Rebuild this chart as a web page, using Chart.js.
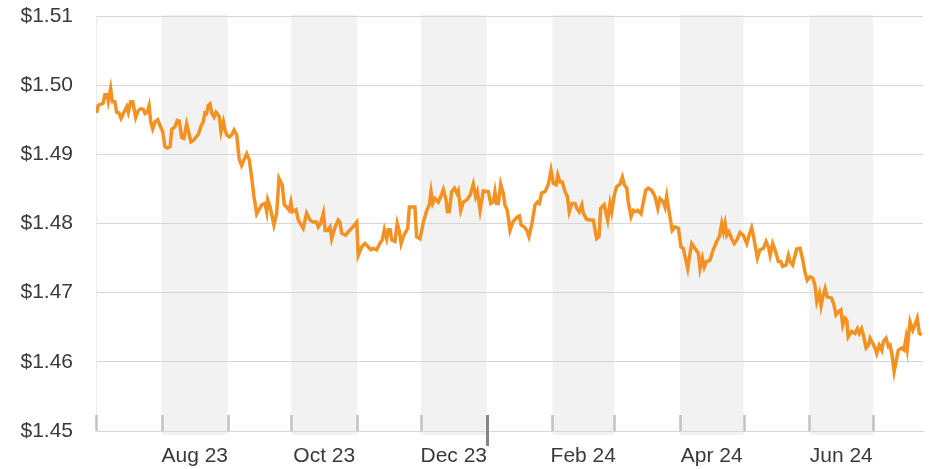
<!DOCTYPE html>
<html>
<head>
<meta charset="utf-8">
<script src="https://cdn.jsdelivr.net/npm/chart.js@4.4.1/dist/chart.umd.min.js"></script>
<style>
  html, body { margin: 0; padding: 0; background: #fff; }
</style>
</head>
<body>
<canvas id="chart" width="935" height="469"></canvas>
<script>
// Data: days counted from 1 Jul 2023, exchange rate
const days = [
  0.3, 1.1, 2.7, 3.4, 4.2, 5.3, 5.8, 6.9, 7.7, 8.9, 9.7, 10.8, 11.8, 12.9, 14.5, 15.2, 16.3, 17.3, 18.7, 19.9,
  21.1, 22.3, 23.1, 24.2, 25.0, 25.8, 26.7, 27.8, 29.1, 30.1, 31.4, 32.5, 33.6, 34.9, 35.7, 37.2, 38.3, 39.2, 40.4, 41.4,
  42.7, 43.8, 44.7, 45.8, 47.1, 48.2, 49.5, 50.5, 51.3, 52.1, 52.9, 53.7, 54.5, 55.6, 56.5, 57.1, 58.1, 58.9, 60.0, 60.8,
  61.6, 62.8, 63.9, 65.0, 66.3, 67.4, 68.6, 69.7, 71.0, 72.2, 73.3, 74.4, 75.7, 78.0, 79.6, 80.4, 80.9, 82.0, 83.8, 85.1,
  86.2, 87.7, 88.7, 89.8, 91.0, 91.8, 92.6, 94.2, 95.3, 97.6, 99.2, 100.8, 102.3, 103.9, 104.7, 105.8, 107.1, 107.9, 109.1, 110.2,
  111.0, 112.6, 114.1, 114.9, 115.7, 117.6, 118.8, 120.4, 122.8, 123.5, 125.1, 126.7, 128.3, 129.5, 130.6, 132.2, 133.8, 134.8, 135.8, 136.9,
  137.7, 138.5, 139.3, 140.8, 141.9, 142.9, 143.7, 144.7, 146.8, 147.6, 150.2, 151.0, 152.6, 154.2, 155.8, 157.0, 157.8, 158.6, 159.7, 161.2,
  162.4, 163.6, 164.9, 165.5, 166.4, 167.5, 168.8, 169.9, 170.6, 171.8, 173.0, 174.6, 176.2, 177.7, 178.8, 179.6, 180.9, 182.4, 184.8, 185.9,
  187.1, 187.9, 188.7, 189.5, 190.6, 191.8, 192.6, 193.7, 195.0, 196.3, 198.2, 199.4, 200.2, 201.7, 202.9, 203.9, 205.2, 206.8, 207.9, 208.8,
  209.9, 211.5, 213.0, 214.3, 215.4, 216.7, 217.5, 218.5, 219.6, 220.9, 222.0, 222.9, 224.1, 225.6, 226.4, 227.6, 228.8, 229.5, 231.1, 232.7,
  234.2, 235.8, 236.9, 237.7, 239.3, 240.1, 241.0, 242.1, 242.9, 244.1, 245.2, 246.8, 247.9, 248.8, 250.0, 250.7, 252.0, 253.1, 254.2, 255.1,
  256.7, 257.8, 258.9, 260.1, 261.7, 263.3, 264.6, 265.6, 267.2, 268.0, 268.8, 269.9, 271.4, 272.7, 274.3, 275.5, 276.6, 278.7, 279.8, 280.6,
  282.1, 283.7, 284.5, 285.6, 286.5, 287.6, 289.2, 290.7, 292.3, 293.6, 294.7, 295.5, 296.3, 297.1, 298.1, 299.4, 300.6, 301.8, 303.3, 304.9,
  306.5, 307.6, 308.8, 309.6, 311.5, 312.7, 314.3, 315.6, 316.7, 317.5, 318.7, 319.8, 321.4, 322.5, 323.4, 325.0, 326.1, 326.9, 328.1, 330.0,
  331.6, 332.9, 333.9, 335.0, 336.3, 337.6, 338.6, 339.5, 340.7, 341.5, 342.3, 343.4, 344.4, 346.5, 347.6, 348.5, 349.6, 350.8, 351.7, 352.8,
  353.6, 354.3, 355.9, 357.5, 358.6, 359.5, 360.6, 361.4, 362.7, 363.8, 364.6, 365.8, 366.9, 367.7, 368.9, 370.1, 370.8, 372.1, 373.2, 374.0,
  374.8, 375.9, 377.1, 377.9, 379.5, 380.6, 381.5, 382.1, 383.4, 384.7, 385.7, 386.8, 387.8, 388.9
];
const rates = [
  1.4960, 1.4971, 1.4973, 1.4974, 1.4986, 1.4986, 1.4977, 1.4995, 1.4976, 1.4976, 1.4961, 1.4960, 1.4952, 1.4959, 1.4969, 1.4961, 1.4976, 1.4976, 1.4953, 1.4963,
  1.4966, 1.4965, 1.4959, 1.4961, 1.4970, 1.4947, 1.4937, 1.4947, 1.4950, 1.4942, 1.4933, 1.4911, 1.4909, 1.4911, 1.4936, 1.4940, 1.4949, 1.4948, 1.4924, 1.4923,
  1.4944, 1.4930, 1.4918, 1.4920, 1.4925, 1.4929, 1.4941, 1.4947, 1.4960, 1.4959, 1.4971, 1.4973, 1.4960, 1.4954, 1.4961, 1.4959, 1.4954, 1.4933, 1.4947, 1.4935,
  1.4928, 1.4925, 1.4928, 1.4935, 1.4928, 1.4894, 1.4884, 1.4892, 1.4901, 1.4892, 1.4867, 1.4839, 1.4814, 1.4827, 1.4829, 1.4817, 1.4834, 1.4824, 1.4798, 1.4815,
  1.4865, 1.4856, 1.4827, 1.4824, 1.4819, 1.4831, 1.4817, 1.4820, 1.4805, 1.4793, 1.4815, 1.4805, 1.4802, 1.4802, 1.4795, 1.4800, 1.4815, 1.4790, 1.4790, 1.4795,
  1.4778, 1.4795, 1.4805, 1.4802, 1.4786, 1.4783, 1.4788, 1.4793, 1.4802, 1.4754, 1.4766, 1.4771, 1.4766, 1.4762, 1.4764, 1.4762, 1.4772, 1.4776, 1.4791, 1.4778,
  1.4791, 1.4791, 1.4776, 1.4774, 1.4800, 1.4788, 1.4771, 1.4781, 1.4793, 1.4824, 1.4824, 1.4781, 1.4778, 1.4802, 1.4819, 1.4827, 1.4846, 1.4829, 1.4836, 1.4831,
  1.4839, 1.4849, 1.4834, 1.4817, 1.4817, 1.4846, 1.4851, 1.4844, 1.4848, 1.4819, 1.4831, 1.4834, 1.4841, 1.4857, 1.4839, 1.4846, 1.4819, 1.4847, 1.4846, 1.4829,
  1.4831, 1.4846, 1.4829, 1.4829, 1.4857, 1.4844, 1.4827, 1.4819, 1.4790, 1.4802, 1.4809, 1.4811, 1.4798, 1.4795, 1.4790, 1.4781, 1.4798, 1.4827, 1.4831, 1.4829,
  1.4844, 1.4846, 1.4856, 1.4877, 1.4858, 1.4856, 1.4870, 1.4860, 1.4860, 1.4846, 1.4839, 1.4817, 1.4829, 1.4829, 1.4822, 1.4817, 1.4827, 1.4815, 1.4806, 1.4805,
  1.4805, 1.4778, 1.4781, 1.4822, 1.4827, 1.4817, 1.4805, 1.4829, 1.4817, 1.4841, 1.4853, 1.4857, 1.4867, 1.4856, 1.4851, 1.4831, 1.4810, 1.4819, 1.4817, 1.4819,
  1.4814, 1.4831, 1.4848, 1.4851, 1.4848, 1.4839, 1.4822, 1.4836, 1.4831, 1.4824, 1.4839, 1.4817, 1.4790, 1.4795, 1.4793, 1.4766, 1.4764, 1.4735, 1.4757, 1.4771,
  1.4764, 1.4757, 1.4735, 1.4750, 1.4737, 1.4745, 1.4747, 1.4762, 1.4774, 1.4781, 1.4800, 1.4788, 1.4800, 1.4783, 1.4788, 1.4778, 1.4771, 1.4776, 1.4787, 1.4783,
  1.4771, 1.4783, 1.4794, 1.4783, 1.4750, 1.4762, 1.4764, 1.4774, 1.4766, 1.4754, 1.4771, 1.4762, 1.4745, 1.4745, 1.4738, 1.4740, 1.4754, 1.4745, 1.4740, 1.4763,
  1.4764, 1.4747, 1.4730, 1.4718, 1.4723, 1.4721, 1.4711, 1.4687, 1.4699, 1.4681, 1.4694, 1.4706, 1.4694, 1.4692, 1.4682, 1.4668, 1.4672, 1.4675, 1.4653, 1.4663,
  1.4660, 1.4636, 1.4644, 1.4641, 1.4648, 1.4641, 1.4648, 1.4639, 1.4620, 1.4624, 1.4634, 1.4627, 1.4620, 1.4612, 1.4624, 1.4617, 1.4629, 1.4634, 1.4622, 1.4624,
  1.4612, 1.4586, 1.4605, 1.4617, 1.4620, 1.4617, 1.4634, 1.4620, 1.4658, 1.4646, 1.4653, 1.4663, 1.4641, 1.4639
];
const monthLabels = ["Aug 23", "Oct 23", "Dec 23", "Feb 24", "Apr 24", "Jun 24"];
const yMin = 1.45;
const yMax = 1.51;
const yStep = 0.01;
const lastDay = 389.5;

// Month boundaries (day numbers), Jul 23 .. Jul 24
const monthStarts = [];
for (let i = 0; i <= 12; i++) {
  monthStarts.push((Date.UTC(2023, 6 + i, 1) - Date.UTC(2023, 6, 1)) / 86400000);
}
const yearStart = monthStarts[6];

// Label positions: middle of every second month (Aug, Oct, ...)
const labelDays = [];
for (let i = 1; i < 12; i += 2) labelDays.push((monthStarts[i] + monthStarts[i + 1]) / 2);

const font = { family: "'Liberation Sans', Arial, sans-serif", size: 21 };

// Shaded months + tick marks
const monthPlugin = {
  id: "months",
  beforeDraw(chart) {
    const { ctx, chartArea, scales } = chart;
    ctx.save();
    ctx.fillStyle = "#f2f2f2";
    for (let i = 1; i < 12; i += 2) {
      const x0 = scales.x.getPixelForValue(monthStarts[i]);
      const x1 = scales.x.getPixelForValue(monthStarts[i + 1]);
      ctx.fillRect(x0, chartArea.top - 1, x1 - x0, chartArea.bottom - chartArea.top + 5);
    }
    ctx.restore();
  },
  afterDraw(chart) {
    const { ctx, chartArea, scales } = chart;
    ctx.save();
    monthStarts.forEach(d => {
      const x = Math.round(scales.x.getPixelForValue(d)) + 0.5;
      ctx.beginPath();
      if (d === yearStart) {
        ctx.strokeStyle = "#858585";
        ctx.lineWidth = 3;
        ctx.moveTo(x, chartArea.bottom - 16);
        ctx.lineTo(x, chartArea.bottom + 15);
      } else {
        ctx.strokeStyle = "#c2c2c2";
        ctx.lineWidth = 2.5;
        ctx.moveTo(x, chartArea.bottom - 16);
        ctx.lineTo(x, chartArea.bottom);
      }
      ctx.stroke();
    });
    ctx.restore();
  }
};

const ctx = document.getElementById("chart").getContext("2d");
new Chart(ctx, {
  type: "line",
  data: {
    datasets: [{
      data: days.map((d, i) => ({ x: d, y: rates[i] })),
      borderColor: "#f39122",
      borderWidth: 3.5,
      pointRadius: 0,
      tension: 0,
      fill: false
    }]
  },
  options: {
    responsive: false,
    animation: false,
    layout: { padding: { top: 16, right: 12, left: 0, bottom: 0 } },
    plugins: { legend: { display: false }, tooltip: { enabled: false } },
    scales: {
      x: {
        type: "linear",
        min: 0,
        max: lastDay,
        afterBuildTicks: s => { s.ticks = labelDays.map(v => ({ value: v })); },
        afterFit: s => { s.height = 38; },
        grid: { display: false, drawTicks: false },
        border: { display: true, color: "#d6d6d6" },
        ticks: {
          autoSkip: false,
          maxRotation: 0,
          padding: 13,
          color: "#3a3a3a",
          font: font,
          callback: (v, i) => monthLabels[i]
        }
      },
      y: {
        min: yMin,
        max: yMax,
        afterFit: s => { s.width = 96; },
        // invisible tick marks give the gap between labels and plot
        grid: { color: "#d6d6d6", drawTicks: true, tickLength: 23, tickColor: "rgba(0,0,0,0)" },
        border: { display: true, color: "#ececec" },
        ticks: {
          stepSize: yStep,
          padding: 0,
          color: "#3a3a3a",
          font: font,
          callback: v => "$" + v.toFixed(2)
        }
      }
    }
  },
  plugins: [monthPlugin]
});
</script>
</body>
</html>
